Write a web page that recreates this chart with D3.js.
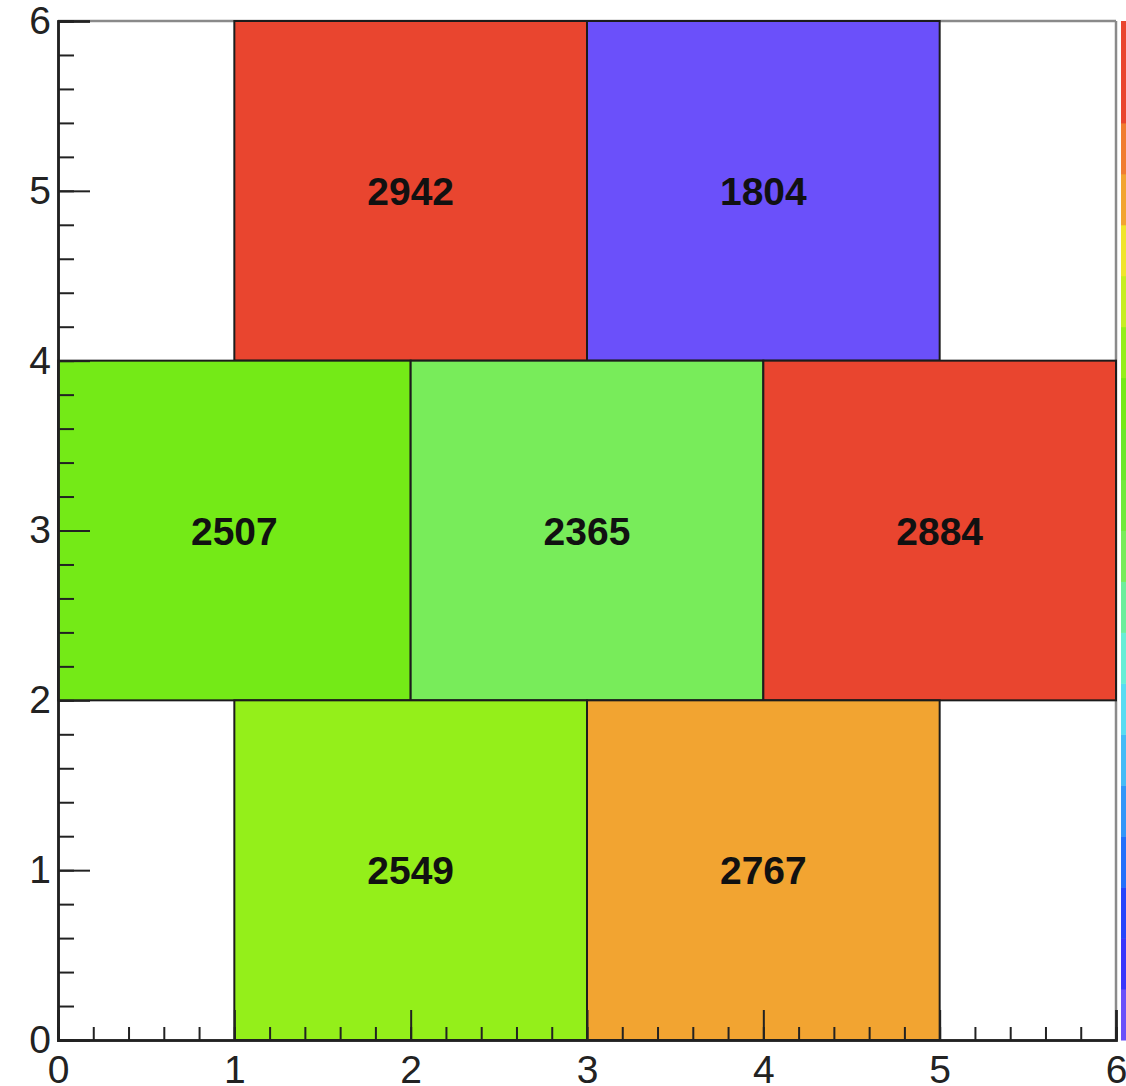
<!DOCTYPE html>
<html>
<head>
<meta charset="utf-8">
<script src="https://cdn.jsdelivr.net/npm/d3@7"></script>
<style>
  html, body { margin: 0; padding: 0; background: #fff; }
  svg { display: block; }
  text { font-family: "Liberation Sans", Arial, Helvetica, sans-serif; }
</style>
</head>
<body>
<svg id="chart" width="1126" height="1086"></svg>
<script>
// Polygon bins (rectangles): x/y extents and contents
const binX0 = [1, 3, 0, 2, 4, 1, 3];
const binX1 = [3, 5, 2, 4, 6, 3, 5];
const binY0 = [4, 4, 2, 2, 2, 0, 0];
const binY1 = [6, 6, 4, 4, 4, 2, 2];
const binValues = [2942, 1804, 2507, 2365, 2884, 2549, 2767];

// Axis ranges and tick labels
const xDomain = [0, 6];
const yDomain = [0, 6];
const majorTicks = [0, 1, 2, 3, 4, 5, 6];
const minorStep = 0.2;

// 20-level colour palette, lowest to highest content
const palette = [
  "#6b50fa", "#3a35fb", "#2645fb", "#2470fa", "#3396f8",
  "#45bbf6", "#58dcf2", "#66eed6", "#6cee9c", "#78ec5a",
  "#70ea3c", "#6ce82a", "#74ea17", "#94ef1a", "#c6ee22",
  "#f0e52d", "#f2a431", "#f07c31", "#e9452f", "#e9452f"
];

const svg = d3.select("#chart");
const plotLeft = 58, plotRight = 1116, plotTop = 21, plotBottom = 1040;

const x = d3.scaleLinear().domain(xDomain).range([plotLeft, plotRight]);
const y = d3.scaleLinear().domain(yDomain).range([plotBottom, plotTop]);

const zMin = d3.min(binValues), zMax = d3.max(binValues);
const color = d3.scaleQuantize().domain([zMin, zMax]).range(palette);

// Frame (top and right edges are light grey)
svg.append("line")
  .attr("x1", plotLeft).attr("x2", plotRight).attr("y1", plotTop).attr("y2", plotTop)
  .attr("stroke", "#8a8a8a").attr("stroke-width", 2.5);
svg.append("line")
  .attr("x1", plotRight).attr("x2", plotRight).attr("y1", plotTop).attr("y2", plotBottom)
  .attr("stroke", "#8a8a8a").attr("stroke-width", 2.5);

// Bins
const bins = binValues.map((v, i) => ({
  x0: binX0[i], x1: binX1[i], y0: binY0[i], y1: binY1[i], v
}));

svg.append("g").selectAll("rect")
  .data(bins)
  .join("rect")
  .attr("x", d => x(d.x0))
  .attr("y", d => y(d.y1))
  .attr("width", d => x(d.x1) - x(d.x0))
  .attr("height", d => y(d.y0) - y(d.y1))
  .attr("fill", d => color(d.v))
  .attr("stroke", "#1c1c1c")
  .attr("stroke-width", 2);

// Bin content labels
svg.append("g").selectAll("text")
  .data(bins)
  .join("text")
  .attr("x", d => x((d.x0 + d.x1) / 2))
  .attr("y", d => y((d.y0 + d.y1) / 2))
  .attr("dy", "0.36em")
  .attr("text-anchor", "middle")
  .attr("font-size", 39)
  .attr("font-weight", "bold")
  .attr("fill", "#111")
  .text(d => d.v);

// Palette strip on the right edge
const levels = d3.range(palette.length);
const zStep = (zMax - zMin) / palette.length;
const zScale = d3.scaleLinear().domain([zMin, zMax]).range([plotBottom, plotTop]);
svg.append("g").selectAll("rect")
  .data(levels)
  .join("rect")
  .attr("x", 1121)
  .attr("width", 12)
  .attr("y", k => zScale(zMin + (k + 1) * zStep))
  .attr("height", k => zScale(zMin + k * zStep) - zScale(zMin + (k + 1) * zStep) + 0.5)
  .attr("fill", k => palette[k]);

// Axes: minor ticks
const minorVals = d3.range(xDomain[0], xDomain[1] + 1e-9, minorStep);
const tickColor = "#222";

const yMinor = svg.append("g")
  .attr("transform", `translate(${plotLeft},0)`)
  .call(d3.axisLeft(y).tickValues(minorVals).tickSize(-16).tickFormat(""));
const xMinor = svg.append("g")
  .attr("transform", `translate(0,${plotBottom})`)
  .call(d3.axisBottom(x).tickValues(minorVals).tickSize(-13).tickFormat(""));

// Axes: major ticks with labels
const yMajor = svg.append("g")
  .attr("transform", `translate(${plotLeft},0)`)
  .call(d3.axisLeft(y).tickValues(majorTicks).tickSize(-32).tickPadding(7).tickFormat(d3.format("d")));
const xMajor = svg.append("g")
  .attr("transform", `translate(0,${plotBottom})`)
  .call(d3.axisBottom(x).tickValues(majorTicks).tickSize(-30).tickPadding(15).tickFormat(d3.format("d")));

[yMinor, xMinor, yMajor, xMajor].forEach(g => {
  g.selectAll(".tick line").attr("stroke", tickColor).attr("stroke-width", 2);
  g.select(".domain").attr("stroke", tickColor).attr("stroke-width", 2.5);
  g.selectAll("text")
    .attr("font-size", 39)
    .attr("font-family", "'Liberation Sans', Arial, Helvetica, sans-serif")
    .attr("fill", "#222");
});
</script>
</body>
</html>
